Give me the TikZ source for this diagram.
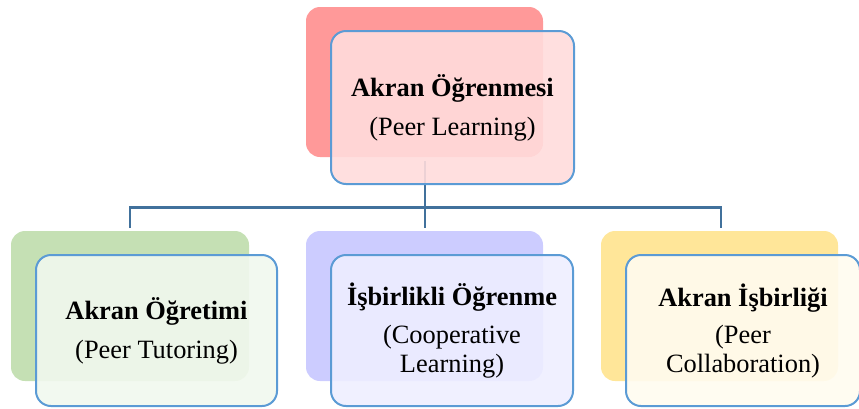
\documentclass[tikz,border=0pt]{standalone}
\usepackage{fontspec}
\setmainfont{Liberation Serif}
\definecolor{bred}{HTML}{FF9999}
\definecolor{fred}{HTML}{FFDCDC}
\definecolor{bgreen}{HTML}{C5E0B4}
\definecolor{fgreen}{HTML}{F1F8EE}
\definecolor{bblue}{HTML}{CCCCFF}
\definecolor{fblue}{HTML}{EEEEFF}
\definecolor{byellow}{HTML}{FFE699}
\definecolor{fyellow}{HTML}{FFFCF0}
\definecolor{edgeblue}{HTML}{5B9BD5}
\definecolor{connblue}{HTML}{41719C}
\tikzset{
  backbox/.style={rectangle, rounded corners=14pt, inner sep=0pt, minimum width=237pt, minimum height=150pt},
  frontbox/.style={rectangle, rounded corners=15pt, draw=edgeblue, line width=2pt, fill opacity=0.9, text opacity=1, inner sep=0pt, align=center, minimum height=151pt,
    font=\fontsize{26.4}{29}\selectfont},
  conn/.style={draw=connblue, line width=2.5pt}
}
\begin{document}
\begin{tikzpicture}[x=1pt,y=-1pt]
\useasboundingbox (0,0) rectangle (859,408);
% back boxes
\node[backbox, fill=bred] (tb) at (424.5,82) {};
\node[backbox, fill=bgreen, minimum width=238pt] (lb) at (130,306) {};
\node[backbox, fill=bblue] (mb) at (424.5,306) {};
\node[backbox, fill=byellow] (rb) at (719.5,306) {};
% connectors
\coordinate (c0) at (425,161);
\coordinate (l1) at (130,228);
\coordinate (l2) at (425,228);
\coordinate (l3) at (721,228);
\draw[conn] (c0) -- (l2);
\draw[conn] (l1) -- ++(0,-20.5) -| (l3);
% front boxes
\node[frontbox, fill=fred, minimum width=243pt, minimum height=153pt] (tf) at (452.5,107.5)
  {\textbf{Akran Öğrenmesi}\\[10pt](Peer Learning)};
\node[frontbox, fill=fgreen, minimum width=241pt] (lf) at (156.5,330.5)
  {\textbf{Akran Öğretimi}\\[10pt](Peer Tutoring)};
\node[frontbox, fill=fblue, minimum width=242pt] (mf) at (452,330.5)
  {\textbf{İşbirlikli Öğrenme}\\[9pt](Cooperative\\Learning)};
\node[frontbox, fill=fyellow, minimum width=234pt] (rf) at (743,330.5)
  {\textbf{Akran İşbirliği}\\[8pt](Peer\\Collaboration)};
\end{tikzpicture}
\end{document}
